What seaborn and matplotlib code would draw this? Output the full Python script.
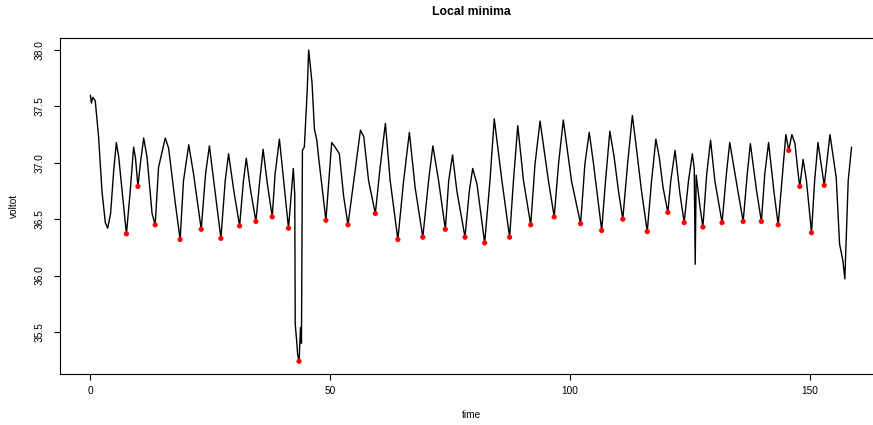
import pandas as pd
import matplotlib
matplotlib.use("Agg")
import matplotlib.pyplot as plt
import seaborn as sns

# voltage trace (time, voltot)
time = [0.0, 0.2, 0.5, 1.0, 1.7, 2.4, 3.1, 3.6, 4.2, 4.85, 5.4, 5.9, 6.6, 7.5, 8.3, 9.0, 9.4, 9.9,
        10.4, 11.1, 11.8, 12.85, 13.5, 14.2, 15.6, 16.3, 17.7, 18.7, 19.4, 20.5, 21.5, 23.1, 24.0, 24.8,
        25.7, 27.2, 28.1, 28.8, 29.9, 31.1, 31.9, 32.5, 33.3, 34.5, 35.3, 36.0, 36.9, 37.9, 38.5, 39.4,
        40.3, 41.3, 42.3, 42.6, 42.7, 43.0, 43.2, 43.5, 43.8, 44.0, 44.2, 44.6, 45.2, 45.5, 45.8, 46.2,
        46.7, 47.2, 47.6, 49.1, 50.3, 51.0, 51.9, 52.8, 53.7, 54.9, 56.3, 57.0, 58.0, 59.4, 60.4, 61.5,
        62.5, 64.1, 65.3, 66.5, 67.7, 69.3, 70.5, 71.4, 72.6, 74.0, 74.7, 75.5, 76.4, 78.1, 79.0, 79.7,
        80.6, 82.2, 83.3, 84.2, 85.8, 87.4, 88.2, 89.1, 90.3, 91.8, 92.7, 93.75, 95.5, 96.7, 97.6, 98.6,
        100.3, 102.2, 103.1, 104.0, 104.9, 106.6, 107.4, 108.3, 109.2, 110.1, 111.0, 112.0, 113.0, 113.9,
        114.9, 116.1, 117.0, 117.9, 118.6, 119.4, 120.4, 121.0, 121.9, 122.9, 123.8, 124.7, 125.5, 125.9,
        126.1, 126.3, 127.1, 127.7, 128.5, 129.3, 130.2, 131.7, 132.6, 133.3, 135.0, 136.1, 136.95, 137.6,
        138.9, 139.9, 140.6, 141.4, 142.5, 143.4, 144.3, 145.0, 145.6, 146.25, 146.9, 147.6, 147.9, 148.6,
        149.3, 150.35, 151.0, 151.7, 153.0, 154.2, 155.5, 156.2, 156.9, 157.3, 158.0, 158.7]
voltot = [37.60, 37.53, 37.58, 37.55, 37.23, 36.75, 36.47, 36.42, 36.55, 36.93, 37.18, 37.05, 36.75, 36.37, 36.75, 37.14, 37.04, 36.79,
          36.99, 37.22, 37.05, 36.55, 36.45, 36.96, 37.22, 37.13, 36.64, 36.32, 36.84, 37.16, 36.90, 36.41, 36.90, 37.15,
          36.84, 36.33, 36.84, 37.08, 36.75, 36.44, 36.84, 37.04, 36.78, 36.48, 36.84, 37.12, 36.81, 36.52, 36.90, 37.21,
          36.84, 36.42, 36.95, 36.72, 35.57, 35.42, 35.30, 35.24, 35.54, 35.40, 37.11, 37.14, 37.64, 38.00, 37.88, 37.71,
          37.30, 37.20, 37.04, 36.49, 37.18, 37.14, 37.08, 36.70, 36.45, 36.84, 37.29, 37.23, 36.84, 36.55, 36.96, 37.35,
          36.84, 36.32, 36.84, 37.27, 36.78, 36.34, 36.84, 37.15, 36.84, 36.41, 36.84, 37.07, 36.75, 36.34, 36.75, 36.95,
          36.81, 36.29, 36.84, 37.39, 36.84, 36.34, 36.84, 37.33, 36.84, 36.45, 36.99, 37.37, 36.84, 36.52, 36.99, 37.38,
          36.84, 36.46, 36.99, 37.27, 36.99, 36.40, 36.84, 37.28, 37.05, 36.75, 36.50, 36.99, 37.42, 37.11,
          36.75, 36.39, 36.84, 37.21, 37.05, 36.78, 36.56, 36.84, 37.11, 36.73, 36.47, 36.84, 37.08, 36.95,
          36.10, 36.89, 36.61, 36.43, 36.90, 37.20, 36.84, 36.47, 36.90, 37.18, 36.75, 36.48, 36.90, 37.17,
          36.75, 36.48, 36.90, 37.18, 36.75, 36.45, 36.90, 37.25, 37.11, 37.25, 37.17, 36.89, 36.79, 37.03,
          36.84, 36.38, 36.84, 37.18, 36.80, 37.25, 36.87, 36.28, 36.13, 35.97, 36.84, 37.14]

# local minima (red points)
min_time = [7.5, 9.9, 13.5, 18.7, 23.1, 27.2, 31.1, 34.5, 37.9, 41.3, 43.5, 49.1, 53.7, 59.4, 64.1, 69.3,
            74.0, 78.1, 82.2, 87.4, 91.8, 96.7, 102.2, 106.6, 111.0, 116.1, 120.4, 123.8, 127.7, 131.7,
            136.1, 139.9, 143.4, 145.6, 147.9, 150.35, 153.0]
min_volt = [36.37, 36.79, 36.45, 36.32, 36.41, 36.33, 36.44, 36.48, 36.52, 36.42, 35.24, 36.49, 36.45, 36.55,
            36.32, 36.34, 36.41, 36.34, 36.29, 36.34, 36.45, 36.52, 36.46, 36.40, 36.50, 36.39, 36.56, 36.47,
            36.43, 36.47, 36.48, 36.48, 36.45, 37.11, 36.79, 36.38, 36.80]

x_ticks = [0, 50, 100, 150]
y_ticks = [35.5, 36.0, 36.5, 37.0, 37.5, 38.0]

sns.set_theme(style="ticks")
plt.rcParams["font.family"] = ["Liberation Sans", "DejaVu Sans"]

trace = pd.DataFrame({"time": time, "voltot": voltot})
minima = pd.DataFrame({"time": min_time, "voltot": min_volt})

fig = plt.figure(figsize=(8.73, 4.25), dpi=100)
# plot region like R's default, right side runs past the picture edge
ax = fig.add_axes([60 / 873, 1 - 373.7 / 425, 822 / 873, 336.1 / 425])

sns.lineplot(data=trace, x="time", y="voltot", sort=False, estimator=None,
             color="black", linewidth=1.0, ax=ax)
sns.scatterplot(data=minima, x="time", y="voltot", color="red", s=14,
                edgecolor="none", linewidth=0, zorder=3, ax=ax)

ax.margins(x=0.04, y=0.04)
ax.set_xticks(x_ticks)
ax.set_xticklabels([str(v) for v in x_ticks])
ax.set_yticks(y_ticks)
ax.set_yticklabels([f"{v:.1f}" for v in y_ticks], rotation=90, va="center")

for s in ax.spines.values():
    s.set_color("black")
    s.set_linewidth(0.8)
ax.spines["right"].set_visible(False)
ax.tick_params(axis="both", direction="out", length=4.3, width=0.8, color="black",
               labelsize=7.3, labelcolor="black")
ax.tick_params(axis="x", pad=4.3)
ax.tick_params(axis="y", pad=6.5)

ax.set_xlabel("time", fontsize=7.3, color="black")
ax.set_ylabel("voltot", fontsize=7.3, color="black")
ax.xaxis.set_label_coords(0.5, -0.123)
ax.xaxis.label.set_va("center")
ax.yaxis.set_label_coords(-0.056, 0.5)
ax.yaxis.label.set_va("center")

ax.text(0.5, 1.076, "Local minima", transform=ax.transAxes, ha="center", va="center",
        fontsize=8.8, fontweight="bold", color="black")

fig.savefig("out.png", dpi=100)
